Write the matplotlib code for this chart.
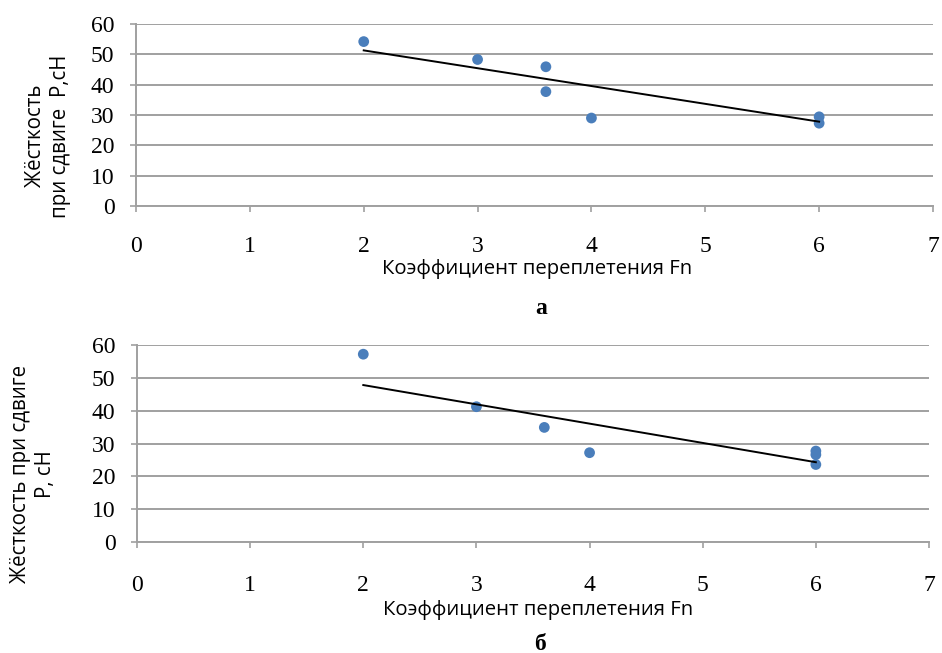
import numpy as np
import matplotlib
matplotlib.use("Agg")
import matplotlib.pyplot as plt

# --- data ---
# chart a
fn_a = [2, 3, 3.6, 3.6, 4, 6, 6]
p_a = [54.2, 48.3, 45.9, 37.7, 29.0, 29.4, 27.3]
trend_a_x = [2, 6]
trend_a_y = [51.3, 27.8]

# chart б
fn_b = [2, 3, 3.6, 4, 6, 6, 6]
p_b = [57.2, 41.2, 34.9, 27.2, 27.7, 26.6, 23.6]
trend_b_x = [2, 6]
trend_b_y = [47.8, 24.3]

x_ticks = [0, 1, 2, 3, 4, 5, 6, 7]
y_ticks = [0, 10, 20, 30, 40, 50, 60]

xlabel = "Коэффициент переплетения Fn"
ylabel_a = "Жёсткость\nпри сдвиге  P,cH"
ylabel_b = "Жёсткость при сдвиге\nP, cH"

W, H = 942, 653
GRID = "#a0a0a0"
BLUE = "#4a7ebb"
SERIF = "Liberation Serif"
SANS = "Open Sans"


def px(x0, y0, x1, y1):
    # pixel box -> figure fraction rect
    return [x0 / W, 1 - y1 / H, (x1 - x0) / W, (y1 - y0) / H]


def draw(ax, fx, py, tx, ty, pad):
    ax.set_xlim(0, 7)
    ax.set_ylim(0, 60)
    ax.set_xticks(x_ticks)
    ax.set_yticks(y_ticks)
    ax.grid(axis="y", color=GRID, linewidth=1.4)
    ax.set_axisbelow(True)
    for s in ["top", "right"]:
        ax.spines[s].set_visible(False)
    for s in ["left", "bottom"]:
        ax.spines[s].set_color(GRID)
        ax.spines[s].set_linewidth(1.4)
    ax.tick_params(axis="both", direction="out", length=4.5, width=1.2, color=GRID)
    ax.tick_params(axis="x", pad=pad)
    ax.tick_params(axis="y", pad=11)
    for lab in ax.get_xticklabels() + ax.get_yticklabels():
        lab.set_fontfamily(SERIF)
        lab.set_fontsize(17)
    ax.scatter(fx, py, s=60, color=BLUE, zorder=3, edgecolors="none")
    ax.plot(tx, ty, color="black", linewidth=1.4, zorder=4)


fig = plt.figure(figsize=(W / 100, H / 100), dpi=100)

ax1 = fig.add_axes(px(136, 24, 933, 206))
draw(ax1, fn_a, p_a, trend_a_x, trend_a_y, 17)

ax2 = fig.add_axes(px(137, 345, 929, 542))
draw(ax2, fn_b, p_b, trend_b_x, trend_b_y, 19)

fig.text(537 / W, 1 - 269 / H, xlabel, family=SANS, fontsize=14.6,
         ha="center", va="center")
fig.text(538 / W, 1 - 610 / H, xlabel, family=SANS, fontsize=14.6,
         ha="center", va="center")

fig.text(48 / W, 1 - 136 / H, ylabel_a, family=SANS, fontsize=14.8,
         rotation=90, ha="center", va="center", linespacing=1.3)
fig.text(33 / W, 1 - 474 / H, ylabel_b, family=SANS, fontsize=14.8,
         rotation=90, ha="center", va="center", linespacing=1.3)

fig.text(541 / W, 1 - 308 / H, "а", family=SERIF, fontsize=17,
         fontweight="bold", ha="center", va="center")
fig.text(540 / W, 1 - 644 / H, "б", family=SERIF, fontsize=17,
         fontweight="bold", ha="center", va="center")

fig.savefig("out.png", dpi=100)
